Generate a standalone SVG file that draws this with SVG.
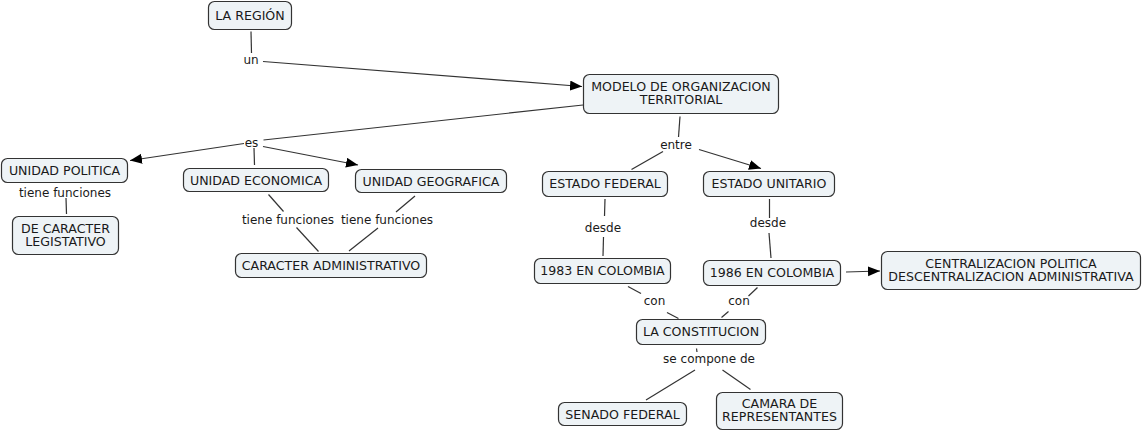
<svg xmlns="http://www.w3.org/2000/svg" width="1145" height="433" viewBox="0 0 1145 433">
<style>
  .node rect { fill: #eef3f6; stroke: #333333; stroke-width: 1.2; }
  .node text, .lbl { font-family: "DejaVu Sans", Verdana, sans-serif; font-size: 12.6px; fill: #1a1a1a; text-anchor: middle; }
  .lbl { font-size: 12px; }
  .conn line { stroke: #333333; stroke-width: 1.2; fill: none; }
  .conn line.arr { marker-end: url(#ah); }
</style>
<defs>
  <marker id="ah" markerUnits="userSpaceOnUse" markerWidth="13" markerHeight="11" refX="12" refY="5" orient="auto">
    <path d="M0,0 L12,5 L0,10 z" fill="#000000"/>
  </marker>
</defs>
<rect width="1145" height="433" fill="#ffffff"/>
<g id="connectors" class="conn">
  <line x1="251" y1="31.5" x2="251.5" y2="53"/>
  <line class="arr" x1="263" y1="61.5" x2="582" y2="86.5"/>
  <line x1="583" y1="105" x2="263.5" y2="140"/>
  <line class="arr" x1="244" y1="143.5" x2="130" y2="160.5"/>
  <line x1="254" y1="148" x2="254.5" y2="165"/>
  <line class="arr" x1="263" y1="146.5" x2="358" y2="165"/>
  <line x1="66" y1="198" x2="66.5" y2="214"/>
  <line x1="268.5" y1="194.5" x2="283.5" y2="211.5"/>
  <line x1="296.5" y1="227.5" x2="318.5" y2="251.5"/>
  <line x1="415" y1="196" x2="396" y2="212"/>
  <line x1="378" y1="228" x2="349" y2="251"/>
  <line x1="680" y1="116.5" x2="678.5" y2="137"/>
  <line x1="663" y1="151.5" x2="631.5" y2="169.5"/>
  <line class="arr" x1="699" y1="149.5" x2="761" y2="168.5"/>
  <line x1="605" y1="199" x2="604.5" y2="216"/>
  <line x1="603.5" y1="237" x2="603" y2="256"/>
  <line x1="769.5" y1="199" x2="769.5" y2="218"/>
  <line x1="769" y1="233" x2="771" y2="258"/>
  <line class="arr" x1="846" y1="272" x2="880" y2="271"/>
  <line x1="628" y1="286.5" x2="641" y2="293.5"/>
  <line x1="667" y1="312.5" x2="678.5" y2="318.5"/>
  <line x1="757.5" y1="287.5" x2="748.5" y2="296"/>
  <line x1="728.5" y1="311.5" x2="721.5" y2="317.5"/>
  <line x1="696.5" y1="348.5" x2="697" y2="352"/>
  <line x1="695" y1="370" x2="646" y2="400"/>
  <line x1="722.5" y1="370" x2="750.5" y2="389.5"/>
  <text class="lbl" x="251" y="64">un</text>
  <text class="lbl" x="251.5" y="146.5">es</text>
  <text class="lbl" x="65" y="196.5">tiene funciones</text>
  <text class="lbl" x="288" y="224">tiene funciones</text>
  <text class="lbl" x="387" y="224">tiene funciones</text>
  <text class="lbl" x="676" y="148.5">entre</text>
  <text class="lbl" x="603" y="231.5">desde</text>
  <text class="lbl" x="768" y="226.5">desde</text>
  <text class="lbl" x="654.5" y="305">con</text>
  <text class="lbl" x="739" y="305">con</text>
  <text class="lbl" x="709" y="363">se compone de</text>
</g>
<g id="n-region" class="node"><rect x="208.5" y="1.5" width="83" height="28" rx="6"/><text x="250" y="20">LA REGIÓN</text></g>
<g id="n-modelo" class="node"><rect x="583.5" y="74.5" width="195" height="39" rx="6"/><text x="681" y="90.7">MODELO DE ORGANIZACION</text><text x="681" y="104.3">TERRITORIAL</text></g>
<g id="n-upol" class="node"><rect x="1.5" y="158.5" width="126" height="24" rx="6"/><text x="64.5" y="174.5">UNIDAD POLITICA</text></g>
<g id="n-ueco" class="node"><rect x="183.5" y="168.5" width="145" height="23" rx="6"/><text x="256" y="184.5">UNIDAD ECONOMICA</text></g>
<g id="n-ugeo" class="node"><rect x="355.5" y="169.5" width="151" height="23" rx="6"/><text x="431" y="185.5">UNIDAD GEOGRAFICA</text></g>
<g id="n-legis" class="node"><rect x="12.5" y="216.5" width="106" height="38" rx="6"/><text x="65.5" y="232.5">DE CARACTER</text><text x="65.5" y="246">LEGISTATIVO</text></g>
<g id="n-cadmin" class="node"><rect x="235.5" y="253.5" width="191" height="24" rx="6"/><text x="331" y="270">CARACTER ADMINISTRATIVO</text></g>
<g id="n-efed" class="node"><rect x="542.5" y="171.5" width="125" height="25" rx="6"/><text x="605" y="188">ESTADO FEDERAL</text></g>
<g id="n-euni" class="node"><rect x="703.5" y="171.5" width="131" height="25" rx="6"/><text x="769" y="188">ESTADO UNITARIO</text></g>
<g id="n-1983" class="node"><rect x="534.5" y="258.5" width="136" height="25" rx="6"/><text x="602.5" y="275">1983 EN COLOMBIA</text></g>
<g id="n-1986" class="node"><rect x="703.5" y="260.5" width="137" height="25" rx="6"/><text x="772" y="277">1986 EN COLOMBIA</text></g>
<g id="n-central" class="node"><rect x="881.5" y="251.5" width="259" height="38" rx="6"/><text x="1011" y="267.5">CENTRALIZACION POLITICA</text><text x="1011" y="281">DESCENTRALIZACION ADMINISTRATIVA</text></g>
<g id="n-lacons" class="node"><rect x="636.5" y="319.5" width="129" height="25" rx="6"/><text x="701" y="336">LA CONSTITUCION</text></g>
<g id="n-senado" class="node"><rect x="558.5" y="402.5" width="128" height="23" rx="6"/><text x="622.5" y="418.5">SENADO FEDERAL</text></g>
<g id="n-camara" class="node"><rect x="716.5" y="392.5" width="126" height="37" rx="6"/><text x="779.5" y="407.5">CAMARA DE</text><text x="779.5" y="421">REPRESENTANTES</text></g>
</svg>
